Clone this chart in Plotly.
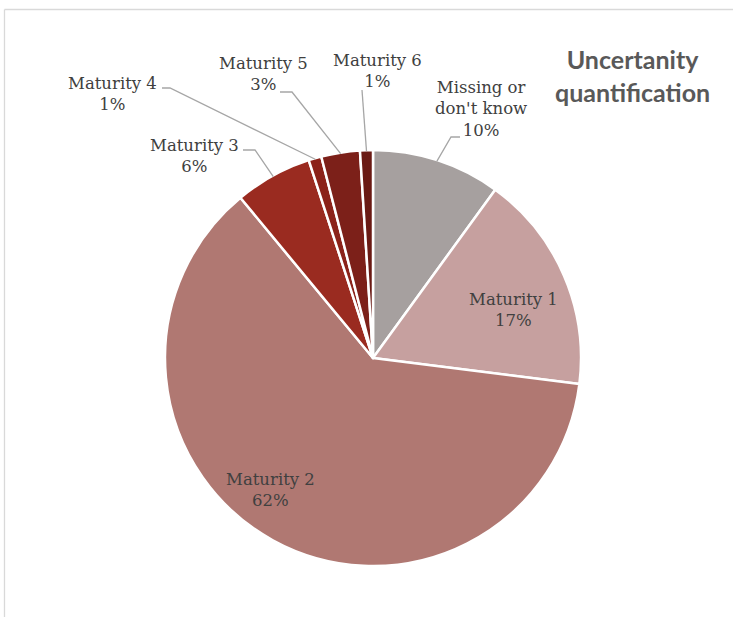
import math
import plotly.graph_objects as go

# ---- data ----
categories = ["Missing or<br>don't know", "Maturity 1", "Maturity 2", "Maturity 3",
              "Maturity 4", "Maturity 5", "Maturity 6"]
values = [10, 17, 62, 6, 1, 3, 1]
colors = ["#A6A09F", "#C6A09F", "#B07872", "#9A2B20", "#8B2219", "#7C2019", "#6A1A14"]
title_text = "Uncertanity<br>quantification"

# ---- layout constants (pixels) ----
W, H = 733, 617
CX, CY, R = 373, 358, 208
label_pos = [(481, 109), (513, 310), (270, 490), (194, 156), (112, 94), (263, 74), (377, 71)]
# leader line elbow / end points per label (None = no leader)
leaders = [[(451, 137), (460, 137)], None, None,
           [(255, 150), (243, 150)], [(170, 88), (162, 88)],
           [(292, 92), (280, 92)], [(362, 90)]]

def px(x):
    return x / W

def py(y):
    return 1 - y / H

fig = go.Figure()
fig.add_trace(go.Pie(
    labels=categories, values=values, sort=False, direction="clockwise", rotation=0,
    marker=dict(colors=colors, line=dict(color="white", width=2.5)),
    textinfo="none", showlegend=False,
    domain=dict(x=[px(CX - R), px(CX + R)], y=[py(CY + R), py(CY - R)]),
))

total = sum(values)
cum = 0
shapes = []
annotations = []
font = dict(family="DejaVu Serif, serif", size=16.5, color="#404040")
for i, (lab, v) in enumerate(zip(categories, values)):
    mid = (cum + v / 2) / total * 2 * math.pi
    cum += v
    pct = round(v / total * 100)
    lx, ly = label_pos[i]
    annotations.append(dict(x=px(lx), y=py(ly), xref="paper", yref="paper",
                            text=f"{lab}<br>{pct}%", showarrow=False,
                            xanchor="center", yanchor="middle", font=font))
    if leaders[i]:
        sx = CX + (R - 1) * math.sin(mid)
        sy = CY - (R - 1) * math.cos(mid)
        pts = [(sx, sy)] + leaders[i]
        path = "M " + " L ".join(f"{px(x):.5f},{py(y):.5f}" for x, y in pts)
        shapes.append(dict(type="path", path=path, xref="paper", yref="paper",
                           line=dict(color="#A6A6A6", width=1.3)))

# chart area border (left and top visible)
shapes.append(dict(type="line", xref="paper", yref="paper", x0=px(4.5), x1=px(4.5),
                   y0=0, y1=py(9.5), line=dict(color="#D9D9D9", width=1.3)))
shapes.append(dict(type="line", xref="paper", yref="paper", x0=px(4.5), x1=1,
                   y0=py(9.5), y1=py(9.5), line=dict(color="#D9D9D9", width=1.3)))

annotations.append(dict(x=px(632), y=py(76), xref="paper", yref="paper", text=title_text,
                        showarrow=False, xanchor="center", yanchor="middle", align="center",
                        font=dict(family="Lato, Open Sans, sans-serif", size=25, color="#595959",
                                  weight="bold")))

fig.update_layout(width=W, height=H, margin=dict(l=0, r=0, t=0, b=0),
                  paper_bgcolor="white", plot_bgcolor="white",
                  shapes=shapes, annotations=annotations)
fig.write_html("out.html", config={"displayModeBar": False},
               post_script="document.body.style.margin='0px';")
